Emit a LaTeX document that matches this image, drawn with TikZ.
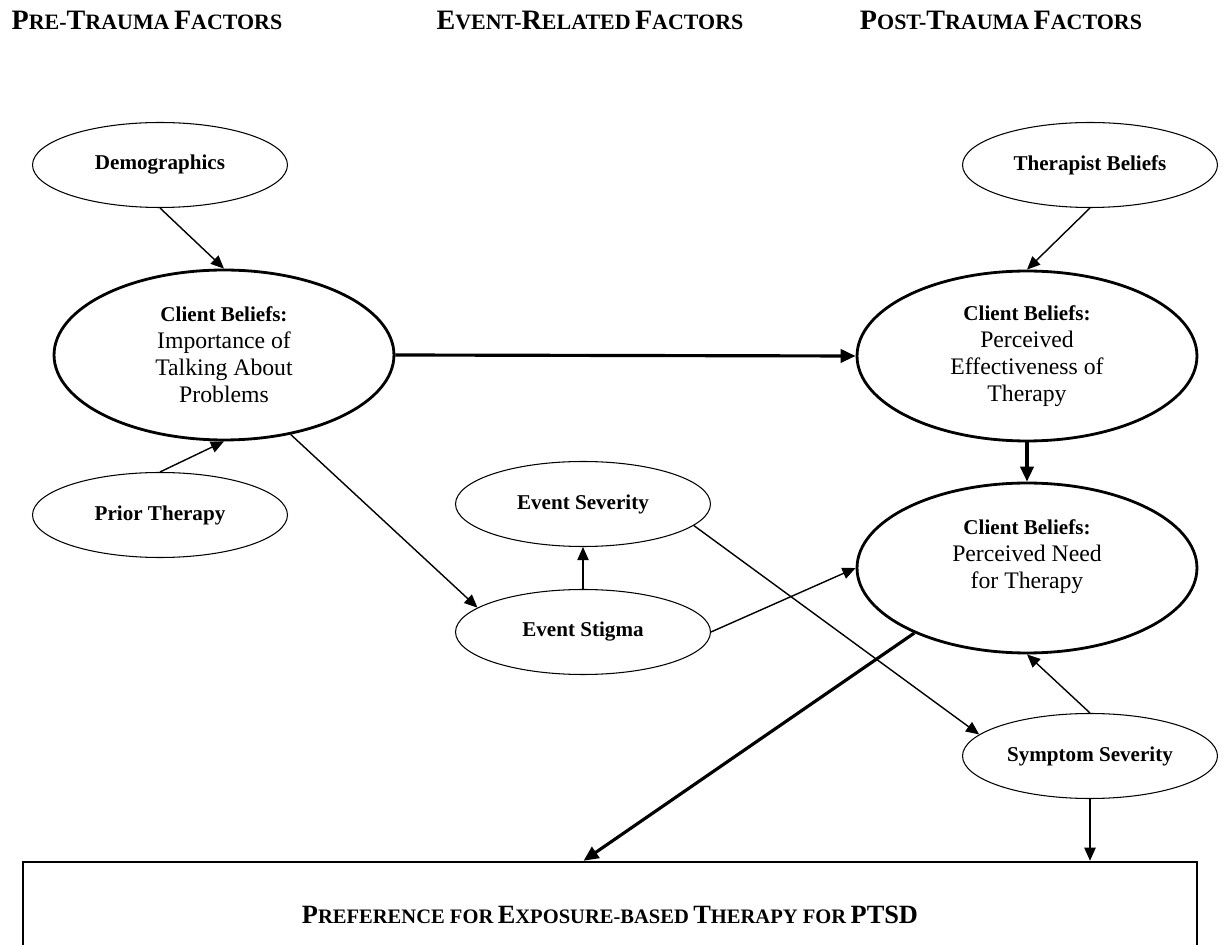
\documentclass[tikz,border=0pt]{standalone}
\usepackage{fontspec}
\setmainfont{Liberation Serif}
\usetikzlibrary{shapes.geometric,arrows.meta}
% fake small caps: big initial, smaller rest
\newcommand\fsc[2]{{\fontsize{16}{16}\selectfont #1}{\fontsize{12.5}{12.5}\selectfont #2}}
\newcommand\fscbox[2]{{\fontsize{15}{15}\selectfont #1}{\fontsize{11.7}{11.7}\selectfont #2}}
\newcommand\cbhead{{\fontsize{12}{15.4}\selectfont\bfseries Client Beliefs:}}

\begin{document}
\begin{tikzpicture}[x=0.02cm,y=-0.02cm,
    factor/.style={ellipse,draw,line width=0.6pt,minimum width=5.1cm,minimum height=1.7cm,inner sep=0pt,font=\fontsize{12}{14}\selectfont\bfseries},
    belief/.style={ellipse,draw,line width=1.6pt,minimum width=6.8cm,minimum height=3.4cm,inner sep=0pt,align=center,font=\fontsize{13.5}{15.4}\selectfont},
    head/.style={font=\bfseries},
    arr/.style={-{Triangle[length=7.5pt,width=6.5pt]},line width=0.8pt},
    bigarr/.style={-{Triangle[length=8.5pt,width=7.5pt]},line width=1.8pt}]
    \useasboundingbox (0,0) rectangle (1225,945);

    % column titles
    \node [head] (Lpre) at (147,20) {\fsc{P}{RE-}\fsc{T}{RAUMA} \fsc{F}{ACTORS}};
    \node [head] (Levt) at (590,20) {\fsc{E}{VENT-}\fsc{R}{ELATED} \fsc{F}{ACTORS}};
    \node [head] (Lpost) at (1001,20) {\fsc{P}{OST-}\fsc{T}{RAUMA} \fsc{F}{ACTORS}};

    \node [factor] (Demo) at (160,165) {Demographics};
    \node [factor] (Prior) at (160,515) {Prior Therapy};
    \node [belief] (CB1) at (224,355) {\cbhead\\Importance of\\Talking About\\Problems};

    \node [factor] (Sev) at (583,504) {Event Severity};
    \node [factor] (Stig) at (583,632) {Event Stigma};

    \node [factor] (Ther) at (1090,165) {Therapist Beliefs};
    \node [belief] (CB2) at (1027,356) {\cbhead\\Perceived\\Effectiveness of\\Therapy};
    \node [belief] (CB3) at (1027,568) {\cbhead\\Perceived Need\\for Therapy\\\mbox{}};
    \node [factor] (Symp) at (1090,756) {Symptom Severity};

    \node [draw,line width=1.4pt,minimum width=23.48cm,minimum height=2.12cm,inner sep=0pt] (Box) at (610,915)
        {\bfseries\fscbox{P}{REFERENCE FOR} \fscbox{E}{XPOSURE-BASED} \fscbox{T}{HERAPY FOR} \fscbox{PTSD}{}};

    \draw [arr] (Demo.south) -- (CB1.north);
    \draw [arr] (Prior.north) -- (CB1.south);
    \draw [bigarr] (CB1.east) -- (CB2.west);
    \draw [arr] (CB1.-50) -- (Stig.167);
    \draw [arr] (Stig.north) -- (Sev.south);
    \draw [arr] (Stig.east) -- (CB3.west);
    \draw [arr] (Sev.-11) -- (Symp.169);
    \draw [arr] (Ther.south) -- (CB2.north);
    \draw [bigarr] (CB2.south) -- (CB3.north);
    \draw [bigarr] (CB3.210) -- (Box.116);
    \draw [arr] (Symp.north) -- (CB3.south);
    \draw [arr] (Symp.south) -- (Symp.south |- Box.north);
\end{tikzpicture}
\end{document}
